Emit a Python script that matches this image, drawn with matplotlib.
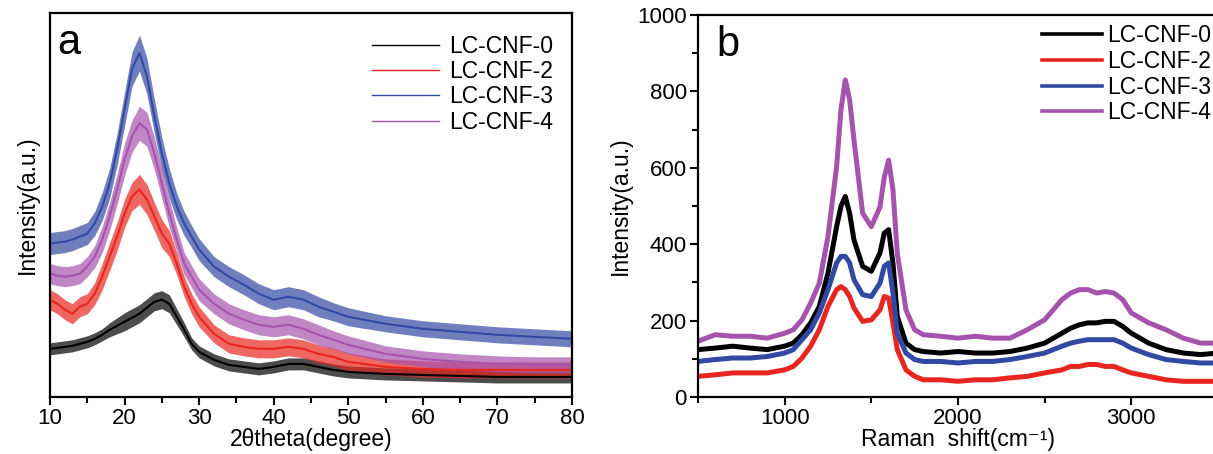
import matplotlib
matplotlib.use("Agg")
import matplotlib.pyplot as plt
from matplotlib.ticker import MultipleLocator, NullLocator

plt.rcParams["font.family"] = ["Liberation Sans", "DejaVu Sans"]
plt.rcParams["mathtext.default"] = "regular"

labels = ["LC-CNF-0", "LC-CNF-2", "LC-CNF-3", "LC-CNF-4"]
colors = ["#000000", "#e8261f", "#3249a3", "#a653ae"]

# (a) XRD, intensity in arbitrary units
theta = [10, 11, 12, 13, 14, 15, 16, 17, 18, 19, 20, 21, 22, 23, 24, 25, 26, 27, 28, 29,
         30, 32, 34, 36, 38, 40, 42, 44, 46, 48, 50, 55, 60, 65, 70, 75, 80]
xrd_cnf0 = [48, 49, 50, 51, 53, 55, 58, 62, 67, 71, 75, 79, 83, 89, 95, 97, 93, 80, 67, 53,
            45, 37, 32, 30, 28, 30, 33, 33, 30, 27, 25, 23, 22, 21, 20, 20, 20]
xrd_cnf2 = [97, 93, 87, 83, 90, 93, 103, 120, 140, 160, 183, 200, 207, 197, 180, 163, 153, 133, 110, 93,
            80, 63, 53, 50, 48, 48, 50, 48, 43, 40, 35, 30, 28, 27, 27, 27, 27]
xrd_cnf3 = [153, 154, 155, 157, 160, 163, 173, 190, 213, 247, 287, 327, 343, 320, 280, 243, 213, 190, 173, 160,
            147, 130, 120, 112, 103, 97, 100, 97, 90, 85, 80, 73, 68, 65, 62, 60, 58]
xrd_cnf4 = [123, 121, 120, 121, 123, 130, 140, 157, 180, 207, 237, 260, 273, 267, 243, 213, 183, 157, 133, 120,
            107, 93, 83, 77, 72, 70, 72, 68, 62, 57, 52, 43, 38, 35, 33, 32, 32]
# half width of the noise band of each trace
xrd_noise0 = [6, 6, 6, 6, 6, 6, 6, 6, 7, 8, 9, 9, 9, 9, 9, 9, 9, 8, 7, 6,
              6, 6, 6, 6, 6, 6, 6, 6, 6, 6, 6, 6, 6, 6, 6, 6, 6]
xrd_noise2 = [10, 10, 10, 10, 10, 10, 11, 13, 14, 14, 14, 14, 15, 15, 14, 14, 13, 11, 10, 10,
              10, 9, 9, 9, 9, 9, 9, 9, 9, 9, 9, 8, 8, 8, 8, 8, 8]
xrd_noise3 = [11, 11, 11, 11, 11, 11, 12, 14, 15, 16, 17, 17, 18, 18, 17, 16, 15, 13, 12, 11,
              11, 10, 10, 10, 10, 10, 10, 10, 10, 9, 9, 8, 8, 8, 8, 8, 8]
xrd_noise4 = [10, 10, 10, 10, 10, 10, 11, 13, 14, 15, 16, 16, 17, 17, 16, 15, 14, 12, 11, 11,
              11, 10, 10, 10, 10, 10, 10, 10, 10, 9, 9, 8, 8, 8, 8, 8, 8]

# (b) Raman
shift = [500, 600, 700, 800, 900, 1000, 1050, 1100, 1150, 1200, 1250, 1300, 1325, 1350, 1375, 1400,
         1450, 1500, 1550, 1575, 1600, 1625, 1650, 1700, 1750, 1800, 1900, 2000, 2100, 2200, 2300,
         2400, 2500, 2600, 2650, 2700, 2750, 2800, 2850, 2900, 2950, 3000, 3100, 3200, 3300, 3400, 3500]
raman_cnf0 = [124, 128, 133, 128, 124, 133, 141, 163, 194, 237, 324, 446, 499, 525, 481, 411,
              342, 329, 377, 429, 438, 350, 211, 141, 124, 119, 115, 119, 115, 115, 119,
              128, 141, 167, 180, 189, 194, 194, 198, 198, 185, 167, 141, 124, 115, 111, 115]
raman_cnf2 = [54, 58, 63, 63, 63, 71, 80, 102, 133, 176, 237, 281, 289, 281, 263, 233,
              198, 202, 228, 263, 259, 194, 124, 71, 54, 45, 45, 41, 45, 45, 50,
              54, 63, 71, 80, 80, 85, 85, 80, 80, 71, 63, 54, 45, 41, 41, 41]
raman_cnf3 = [93, 98, 102, 102, 106, 115, 124, 150, 176, 220, 281, 351, 368, 368, 351, 307,
              268, 263, 298, 342, 351, 272, 167, 115, 98, 93, 93, 89, 93, 93, 98,
              106, 115, 133, 141, 146, 150, 150, 150, 150, 141, 128, 111, 98, 93, 89, 89]
raman_cnf4 = [146, 163, 159, 159, 154, 167, 176, 202, 246, 298, 420, 603, 752, 830, 778, 673,
              481, 446, 497, 576, 620, 542, 376, 228, 176, 163, 159, 154, 159, 154, 154,
              176, 202, 255, 272, 281, 281, 272, 276, 272, 255, 220, 194, 176, 154, 141, 141]

xrd = [xrd_cnf0, xrd_cnf2, xrd_cnf3, xrd_cnf4]
xrd_noise = [xrd_noise0, xrd_noise2, xrd_noise3, xrd_noise4]
raman = [raman_cnf0, raman_cnf2, raman_cnf3, raman_cnf4]

fig = plt.figure(figsize=(12.13, 4.54), dpi=100)
ax1 = fig.add_axes([0.0412, 0.1256, 0.4303, 0.8458])
ax2 = fig.add_axes([0.5754, 0.1256, 0.4287, 0.8414])

# panel a
for y, n, c, lab in zip(xrd, xrd_noise, colors, labels):
    lo = [v - d for v, d in zip(y, n)]
    hi = [v + d for v, d in zip(y, n)]
    ax1.fill_between(theta, lo, hi, color=c, alpha=0.7, lw=0)
    ax1.plot(theta, y, color=c, lw=1.5, label=lab)
ax1.set_xlim(10, 80)
ax1.set_ylim(0, 383)
ax1.xaxis.set_major_locator(MultipleLocator(10))
ax1.xaxis.set_minor_locator(MultipleLocator(5))
ax1.yaxis.set_major_locator(NullLocator())
ax1.set_xlabel("2θtheta(degree)", fontsize=16.5, labelpad=-1)
ax1.set_ylabel("Intensity(a.u.)", fontsize=16.5, labelpad=8)
ax1.text(0.013, 0.975, "a", transform=ax1.transAxes, fontsize=30, va="top", ha="left")
leg1 = ax1.legend(loc="upper right", bbox_to_anchor=(1.003, 0.997), frameon=False, fontsize=16.5,
                  handlelength=2.9, handletextpad=0.45, labelspacing=0.1)
for h in leg1.get_lines():
    h.set_linewidth(1.0)

# panel b
for y, c, lab in zip(raman, colors, labels):
    ax2.plot(shift, y, color=c, lw=3.6, label=lab)
ax2.set_xlim(500, 3500)
ax2.set_ylim(0, 1000)
ax2.xaxis.set_major_locator(MultipleLocator(1000))
ax2.xaxis.set_minor_locator(MultipleLocator(500))
ax2.yaxis.set_major_locator(MultipleLocator(200))
ax2.yaxis.set_minor_locator(MultipleLocator(100))
ax2.set_xlabel("Raman  shift(cm⁻¹)", fontsize=16.5, labelpad=-1)
ax2.set_ylabel("Intensity(a.u.)", fontsize=16.5, labelpad=4)
ax2.text(0.035, 0.975, "b", transform=ax2.transAxes, fontsize=30, va="top", ha="left")
leg2 = ax2.legend(loc="upper right", bbox_to_anchor=(1.027, 1.03), frameon=False, fontsize=16.5,
                  handlelength=2.6, handletextpad=0.25, labelspacing=0.12)
for h in leg2.get_lines():
    h.set_linewidth(2.6)

for ax in (ax1, ax2):
    for s in ax.spines.values():
        s.set_linewidth(1.6)
    ax.tick_params(which="major", direction="out", length=6, width=1.5, labelsize=16, pad=2)
    ax.tick_params(which="minor", direction="out", length=4, width=1.5)

fig.savefig("out.png", dpi=100)
